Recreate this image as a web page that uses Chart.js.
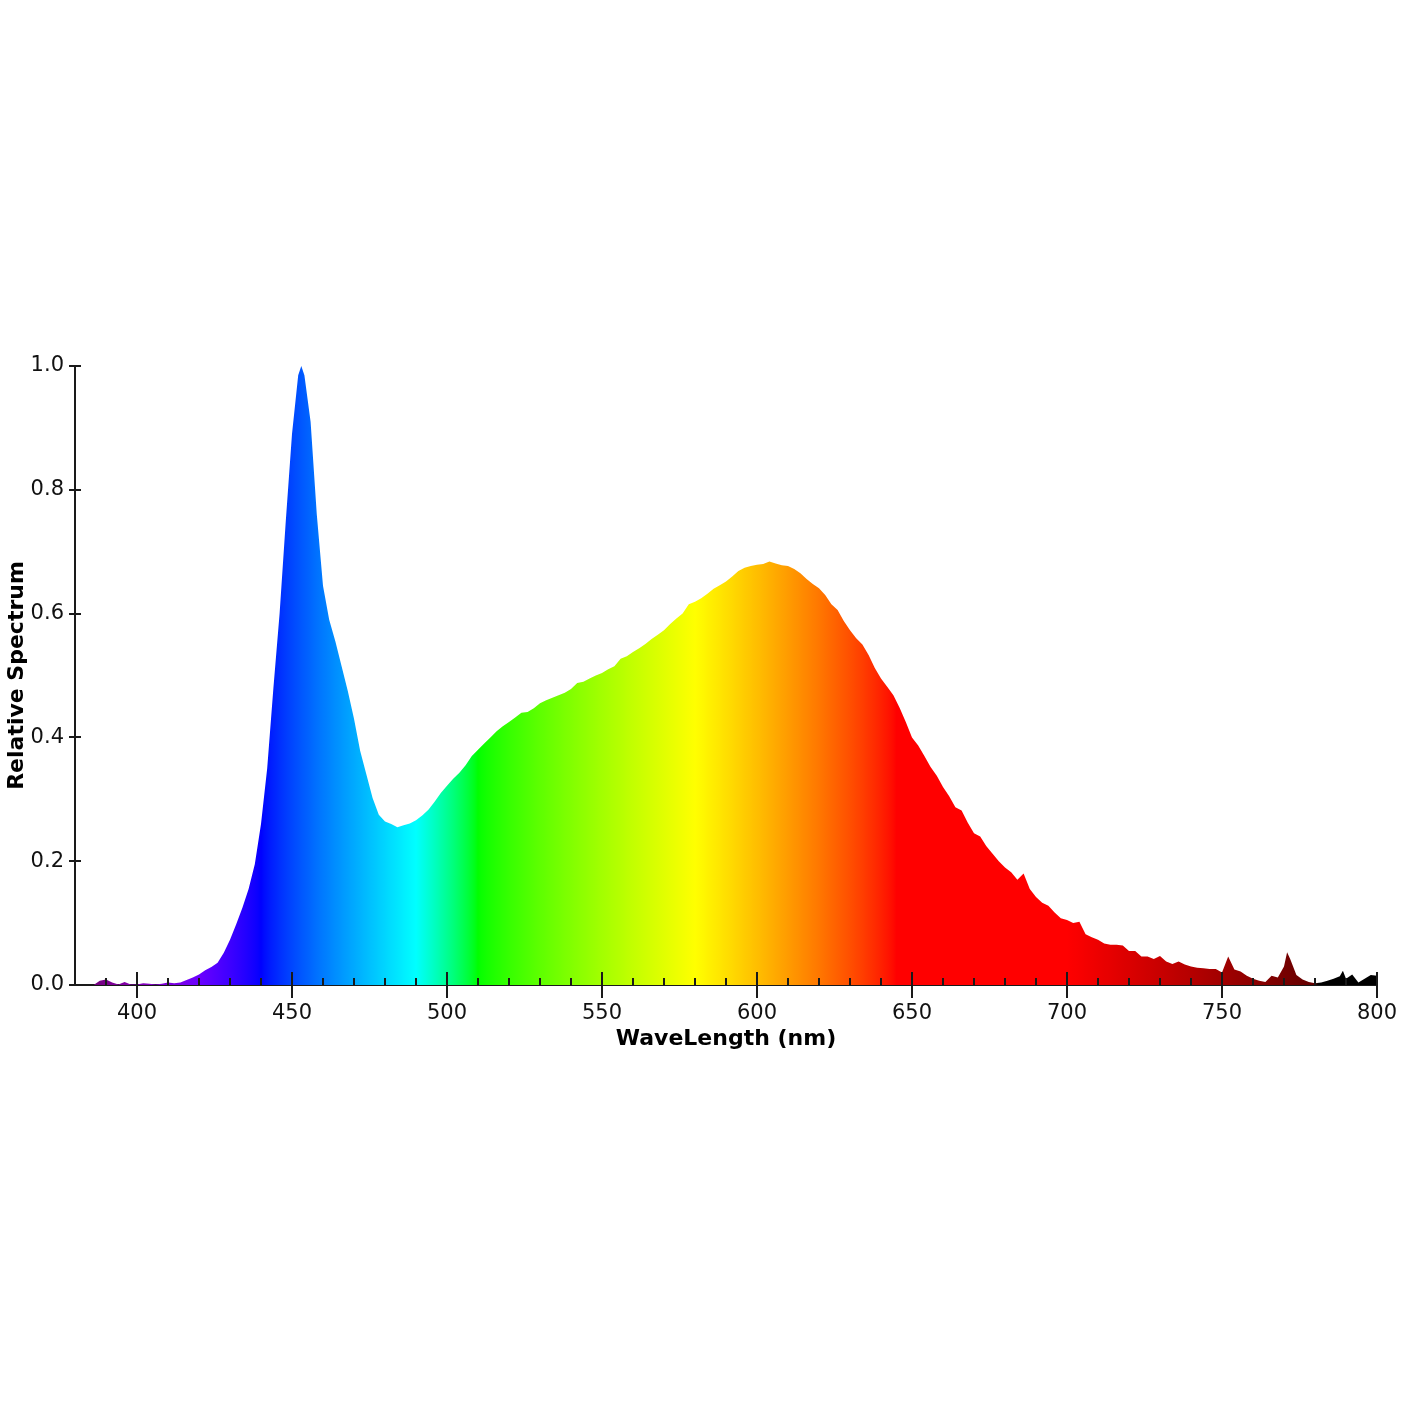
<!DOCTYPE html>
<html>
<head>
<meta charset="utf-8">
<script src="https://cdn.jsdelivr.net/npm/chart.js@4/dist/chart.umd.min.js"></script>
<style>
body { margin: 0; background: #fff; }
</style>
</head>
<body>
<canvas id="myChart" width="1420" height="1420"></canvas>
<script>
// datos (nm / espectro relativo)
const longitudes = [
    386, 388, 390, 392, 394, 396, 398, 400, 402, 404, 406, 408, 410, 412, 414, 416, 418, 420,
    422, 424, 426, 428, 430, 432, 434, 436, 438, 440, 442, 444, 446, 448, 450, 452, 453, 454,
    456, 458, 460, 462, 464, 466, 468, 470, 472, 474, 476, 478, 480, 482, 484, 486, 488, 490,
    492, 494, 496, 498, 500, 502, 504, 506, 508, 510, 512, 514, 516, 518, 520, 522, 524, 526,
    528, 530, 532, 534, 536, 538, 540, 542, 544, 546, 548, 550, 552, 554, 556, 558, 560, 562,
    564, 566, 568, 570, 572, 574, 576, 578, 580, 582, 584, 586, 588, 590, 592, 594, 596, 598,
    600, 602, 604, 606, 608, 610, 612, 614, 616, 618, 620, 622, 624, 626, 628, 630, 632, 634,
    636, 638, 640, 642, 644, 646, 648, 650, 652, 654, 656, 658, 660, 662, 664, 666, 668, 670,
    672, 674, 676, 678, 680, 682, 684, 686, 688, 690, 692, 694, 696, 698, 700, 702, 704, 706,
    708, 710, 712, 714, 716, 718, 720, 722, 724, 726, 728, 730, 732, 734, 736, 738, 740, 742,
    744, 746, 748, 750, 752, 754, 756, 758, 760, 762, 764, 766, 768, 770, 771, 772, 774, 776,
    778, 780, 782, 784, 786, 788, 789, 790, 792, 794, 796, 798, 800
];

const espectro = [
    0, 0.007, 0.009, 0.004, 0.001, 0.005, 0.001, 0.001, 0.003, 0.002, 0.001, 0.002, 0.004, 0.003, 0.004, 0.008, 0.012, 0.017,
    0.024, 0.029, 0.036, 0.052, 0.073, 0.098, 0.125, 0.155, 0.195, 0.26, 0.35, 0.48, 0.60, 0.75, 0.89, 0.985, 1.0, 0.985,
    0.91, 0.76, 0.645, 0.59, 0.555, 0.515, 0.475, 0.43, 0.378, 0.34, 0.302, 0.275, 0.264, 0.26, 0.255, 0.258, 0.261, 0.266,
    0.274, 0.283, 0.296, 0.31, 0.322, 0.333, 0.343, 0.355, 0.37, 0.38, 0.39, 0.4, 0.41, 0.418, 0.425, 0.432, 0.44, 0.441,
    0.447, 0.455, 0.46, 0.464, 0.468, 0.472, 0.478, 0.488, 0.49, 0.495, 0.5, 0.504, 0.51, 0.515, 0.527, 0.531, 0.538, 0.544,
    0.551, 0.559, 0.566, 0.573, 0.583, 0.592, 0.6, 0.615, 0.619, 0.625, 0.632, 0.64, 0.646, 0.652, 0.66, 0.669, 0.674, 0.677,
    0.679, 0.68, 0.684, 0.681, 0.678, 0.677, 0.672, 0.665, 0.656, 0.648, 0.641, 0.63, 0.615, 0.606, 0.588, 0.573, 0.56, 0.55,
    0.533, 0.512, 0.495, 0.482, 0.468, 0.448, 0.425, 0.4, 0.387, 0.37, 0.352, 0.338, 0.32, 0.305, 0.287, 0.282, 0.262, 0.245,
    0.24, 0.224, 0.212, 0.2, 0.19, 0.182, 0.17, 0.18, 0.155, 0.142, 0.133, 0.128, 0.117, 0.108, 0.105, 0.1, 0.102, 0.082,
    0.077, 0.073, 0.067, 0.065, 0.065, 0.064, 0.055, 0.055, 0.046, 0.046, 0.042, 0.047, 0.038, 0.034, 0.038, 0.033, 0.03, 0.028,
    0.027, 0.026, 0.026, 0.02, 0.046, 0.025, 0.022, 0.015, 0.01, 0.007, 0.005, 0.015, 0.012, 0.03, 0.053, 0.042, 0.016, 0.009,
    0.005, 0.003, 0.004, 0.007, 0.01, 0.014, 0.023, 0.01, 0.017, 0.004, 0.01, 0.016, 0.015
];

const ejeX = { min: 380, max: 800, paso: 10, pasoMayor: 50 };
const ticksY = [0, 0.2, 0.4, 0.6, 0.8, 1.0];

// color de cada longitud de onda (aprox. visible)
function colorLongitud(l) {
    let r = 0, g = 0, b = 0;
    if (l >= 380 && l < 440) { r = (440 - l) / 60; b = 1; }
    else if (l >= 440 && l < 490) { g = (l - 440) / 50; b = 1; }
    else if (l >= 490 && l < 510) { g = 1; b = (510 - l) / 20; }
    else if (l >= 510 && l < 580) { r = (l - 510) / 70; g = 1; }
    else if (l >= 580 && l < 645) { r = 1; g = (645 - l) / 65; }
    else if (l >= 645 && l <= 780) { r = 1; }

    let f = 0;
    if (l >= 380 && l < 420) f = 0.3 + 0.7 * (l - 380) / 40;
    else if (l >= 420 && l < 701) f = 1;
    else if (l >= 701 && l <= 780) f = 0.3 + 0.7 * (780 - l) / 80;

    const c = v => v === 0 ? 0 : Math.round(255 * Math.pow(v * f, 0.8));
    return `rgb(${c(r)},${c(g)},${c(b)})`;
}

// relleno con gradiente segun la escala x
function gradienteEspectro(context) {
    const chart = context.chart;
    const area = chart.chartArea;
    if (!area) return '#888';
    const x = chart.scales.x;
    const grad = chart.ctx.createLinearGradient(area.left, 0, area.right, 0);
    for (let l = ejeX.min; l <= ejeX.max; l++) {
        let pos = (x.getPixelForValue(l) - area.left) / (area.right - area.left);
        pos = Math.min(1, Math.max(0, pos));
        grad.addColorStop(pos, colorLongitud(l));
    }
    return grad;
}

// marcas de los ejes (largas cada 50, cortas cada 10)
const marcasEjes = {
    id: 'marcasEjes',
    afterDraw(chart) {
        const ctx = chart.ctx;
        const xs = chart.scales.x;
        const ys = chart.scales.y;
        const base = ys.getPixelForValue(0);
        const izq = chart.chartArea.left;

        ctx.save();
        ctx.strokeStyle = '#1a1a1a';
        ctx.lineWidth = 2;
        ctx.beginPath();
        xs.ticks.forEach(t => {
            const px = Math.round(xs.getPixelForValue(t.value));
            if (t.value % ejeX.pasoMayor === 0) {
                ctx.moveTo(px, base - 13);
                ctx.lineTo(px, base + 13);
            } else {
                ctx.moveTo(px, base - 7);
                ctx.lineTo(px, base);
            }
        });
        ys.ticks.forEach(t => {
            const py = Math.round(ys.getPixelForValue(t.value));
            ctx.moveTo(izq - 6, py);
            ctx.lineTo(izq + 6, py);
        });
        ctx.stroke();
        ctx.restore();
    }
};

const ctx = document.getElementById('myChart').getContext('2d');

const myChart = new Chart(ctx, {
    type: 'line',
    data: {
        datasets: [{
            label: 'Espectro',
            data: longitudes.map((l, i) => ({ x: l, y: espectro[i] })),
            fill: 'origin',
            backgroundColor: gradienteEspectro,
            borderWidth: 0,
            pointRadius: 0,
            tension: 0,
        }]
    },
    options: {
        responsive: false,
        animation: false,
        layout: {
            padding: { left: 0, top: 366, right: 43, bottom: 365 }
        },
        scales: {
            x: {
                type: 'linear',
                min: ejeX.min,
                max: ejeX.max,
                afterFit: (scale) => { scale.height = 70; },
                ticks: {
                    stepSize: ejeX.paso,
                    autoSkip: false,
                    maxRotation: 0,
                    padding: 16,
                    color: '#111',
                    font: { family: 'DejaVu Sans', size: 21 },
                    callback: (v) => v % ejeX.pasoMayor === 0 ? String(v) : '',
                },
                grid: { display: false, drawTicks: false },
                border: { display: true, color: '#1a1a1a', width: 2 },
                title: {
                    display: true,
                    text: 'WaveLength (nm)',
                    color: '#000',
                    font: { family: 'DejaVu Sans', size: 22, weight: 'bold' },
                    padding: { top: 0, bottom: 3 },
                },
            },
            y: {
                min: 0,
                max: 1,
                afterFit: (scale) => { scale.width = 75; },
                afterBuildTicks: (scale) => { scale.ticks = ticksY.map(v => ({ value: v })); },
                ticks: {
                    padding: 11,
                    color: '#111',
                    font: { family: 'DejaVu Sans', size: 21 },
                    callback: (v) => v.toFixed(1),
                },
                grid: { display: false, drawTicks: false },
                border: { display: true, color: '#1a1a1a', width: 2 },
                title: {
                    display: true,
                    text: 'Relative Spectrum',
                    color: '#000',
                    font: { family: 'DejaVu Sans', size: 22, weight: 'bold' },
                    padding: { top: 4, bottom: 0 },
                },
            }
        },
        plugins: {
            legend: { display: false },
            tooltip: { enabled: false }
        }
    },
    plugins: [marcasEjes]
});
</script>
</body>
</html>
